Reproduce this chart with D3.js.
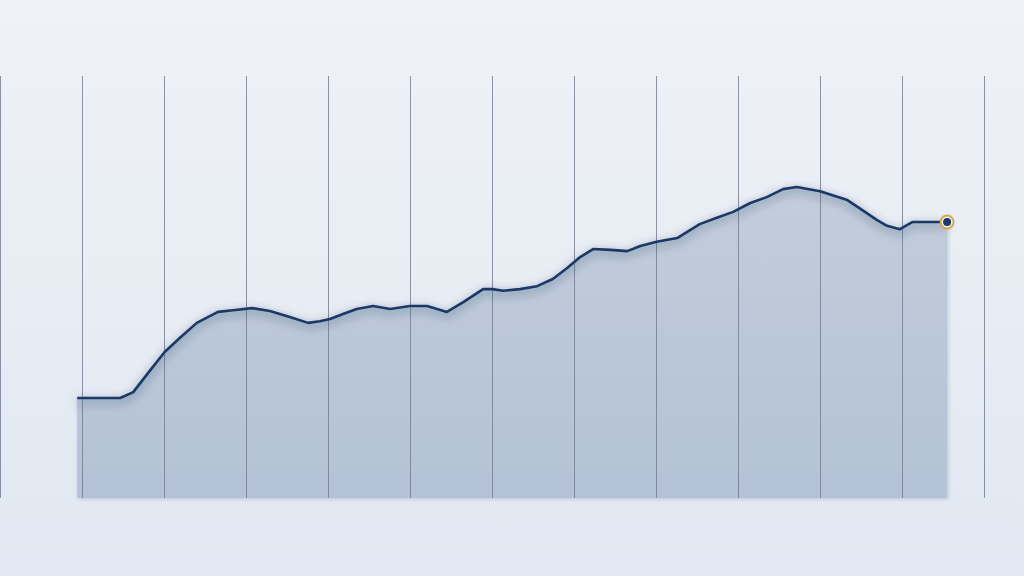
<!DOCTYPE html>
<html>
<head>
<meta charset="utf-8">
<script src="https://cdn.jsdelivr.net/npm/d3@7"></script>
<style>
  html, body { margin: 0; padding: 0; }
  body { width: 1024px; height: 576px; overflow: hidden; }
</style>
</head>
<body>
<div id="viz"></div>
<script>
const WIDTH = 1024;
const HEIGHT = 576;

// month offsets (x) and values (y)
const MONTHS = [
  11.3, 17.6, 19.5, 22.0, 24.1, 26.3, 28.8, 31.9, 34.1, 36.9, 39.5, 42.4,
  45.1, 46.8, 48.3, 50.2, 52.2, 54.6, 57.1, 60.0, 62.5, 65.4, 67.8, 70.7,
  72.1, 73.6, 76.1, 78.6, 80.9, 83.0, 84.9, 86.8, 89.3, 91.8, 93.7, 96.1,
  99.1, 102.4, 104.9, 107.3, 109.8, 112.2, 114.6, 116.6, 120.0, 124.0, 126.2,
  128.3, 129.8, 131.7, 133.5, 138.6
];
const VALUES = [
  23.7, 23.7, 25.1, 30.3, 34.6, 37.9, 41.5, 44.1, 44.5, 45.0, 44.3, 42.9,
  41.5, 41.9, 42.4, 43.6, 44.8, 45.5, 44.8, 45.5, 45.5, 44.1, 46.4, 49.5,
  49.5, 49.1, 49.5, 50.2, 51.9, 54.5, 57.1, 59.0, 58.8, 58.5, 59.7, 60.7,
  61.6, 64.9, 66.4, 67.8, 69.9, 71.3, 73.2, 73.7, 72.7, 70.6, 68.2,
  65.9, 64.5, 63.7, 65.4, 65.4
];
// grid ticks, one per year
const GRID_MONTHS = d3.range(0, 145, 12);

const series = MONTHS.map((m, i) => ({ m, v: VALUES[i] }));

const svg = d3.select("#viz").append("svg")
  .attr("width", WIDTH)
  .attr("height", HEIGHT);

const defs = svg.append("defs");

const bg = defs.append("linearGradient").attr("id", "bg")
  .attr("x1", 0).attr("y1", 0).attr("x2", 0).attr("y2", 1);
bg.append("stop").attr("offset", "0%").attr("stop-color", "#eff2f7");
bg.append("stop").attr("offset", "100%").attr("stop-color", "#e1e8f1");

const areaFill = defs.append("linearGradient").attr("id", "areaFill")
  .attr("x1", 0).attr("y1", 0).attr("x2", 0).attr("y2", 1);
areaFill.append("stop").attr("offset", "0%").attr("stop-color", "#c3cddb");
areaFill.append("stop").attr("offset", "100%").attr("stop-color", "#b3c2d6");

const glow = defs.append("filter").attr("id", "glow")
  .attr("x", "-5%").attr("y", "-40%").attr("width", "110%").attr("height", "180%");
glow.append("feDropShadow")
  .attr("dx", 0).attr("dy", 3).attr("stdDeviation", 5)
  .attr("flood-color", "#1c2f52").attr("flood-opacity", 0.6);

const soft = defs.append("filter").attr("id", "soft")
  .attr("x", "-5%").attr("y", "-5%").attr("width", "110%").attr("height", "110%");
soft.append("feDropShadow")
  .attr("dx", 1).attr("dy", 1).attr("stdDeviation", 2)
  .attr("flood-color", "#6d7f99").attr("flood-opacity", 0.35);

svg.append("rect")
  .attr("width", WIDTH).attr("height", HEIGHT)
  .attr("fill", "url(#bg)");

const x = d3.scaleLinear().domain([0, 144]).range([0, 984]);
const y = d3.scaleLinear().domain([0, 100]).range([498, 76]);

svg.append("path")
  .datum(series)
  .attr("fill", "url(#areaFill)")
  .attr("filter", "url(#soft)")
  .attr("d", d3.area()
    .x(d => x(d.m))
    .y0(y(0))
    .y1(d => y(d.v))
    .curve(d3.curveLinear));

svg.append("g")
  .selectAll("line")
  .data(GRID_MONTHS)
  .join("line")
  .attr("x1", d => x(d) + 0.5)
  .attr("x2", d => x(d) + 0.5)
  .attr("y1", y(100))
  .attr("y2", y(0))
  .attr("stroke", "#6f7b8f")
  .attr("stroke-opacity", 0.8)
  .attr("stroke-width", 1);

svg.append("path")
  .datum(series)
  .attr("fill", "none")
  .attr("stroke", "#1f3866")
  .attr("stroke-width", 2.6)
  .attr("stroke-linejoin", "round")
  .attr("filter", "url(#glow)")
  .attr("d", d3.line()
    .x(d => x(d.m))
    .y(d => y(d.v))
    .curve(d3.curveLinear));

const last = series[series.length - 1];
svg.append("circle")
  .attr("cx", x(last.m)).attr("cy", y(last.v))
  .attr("r", 6.5)
  .attr("fill", "#eef1f6")
  .attr("stroke", "#d4a74e")
  .attr("stroke-width", 2);
svg.append("circle")
  .attr("cx", x(last.m)).attr("cy", y(last.v))
  .attr("r", 4)
  .attr("fill", "#1f3866");
</script>
</body>
</html>
